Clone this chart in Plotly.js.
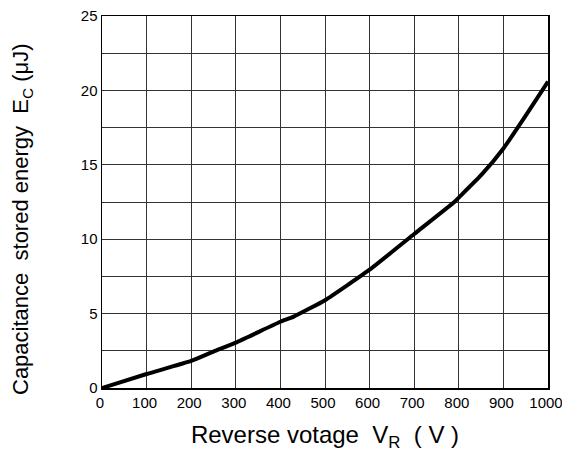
<!DOCTYPE html>
<html>
<head>
<meta charset="utf-8">
<script src="https://cdn.plot.ly/plotly-3.0.1.min.js"></script>
<style>html,body{margin:0;padding:0;background:#fff;}#chart{width:562px;height:456px;}</style>
</head>
<body>
<div id="chart"></div>
<script>
// Reverse voltage V_R (V)
const voltage = [0, 100, 200, 250, 300, 400, 430, 500, 600, 700, 790, 800, 850, 900, 950, 1000];
// Capacitance stored energy E_C (µJ)
const energy = [0, 0.94, 1.82, 2.45, 3.05, 4.45, 4.8, 5.9, 7.95, 10.35, 12.5, 12.8, 14.3, 16.1, 18.3, 20.6];
const xTicks = [0, 100, 200, 300, 400, 500, 600, 700, 800, 900, 1000];
const yTicks = [0, 5, 10, 15, 20, 25];
const xTitle = 'Reverse votage&nbsp;&nbsp;V<sub>R</sub>&nbsp;&nbsp;( V )';
const yTitle = 'Capacitance&nbsp;&nbsp;stored energy&nbsp;&nbsp;E<sub>C</sub> (μJ)';

const fam = 'Liberation Sans, Arial, sans-serif';
const W = 562, H = 456, L = 102, R = 14, T = 16, B = 68;
Plotly.newPlot('chart', [{
  x: voltage, y: energy, mode: 'lines', type: 'scatter',
  line: {color: '#000', width: 4, shape: 'spline', smoothing: 0.4},
  hoverinfo: 'skip'
}], {
  width: W, height: H,
  margin: {l: L, r: R, t: T, b: B},
  paper_bgcolor: '#fff', plot_bgcolor: '#fff',
  showlegend: false,
  font: {family: fam, color: '#000'},
  xaxis: {
    range: [0, 1000], tickvals: xTicks, ticktext: xTicks.map(String),
    showgrid: true, gridcolor: '#333', gridwidth: 1,
    showline: true, linecolor: '#000', linewidth: 1.5, mirror: true,
    zeroline: false, ticks: '', ticklen: 0,
    ticklabeloverflow: 'allow', ticklabelshift: -2,
    tickfont: {family: fam, size: 15, color: '#000'},
    title: {text: xTitle, font: {family: fam, size: 24, color: '#000'}, standoff: 16}
  },
  yaxis: {
    range: [0, 25], tickvals: yTicks, ticktext: yTicks.map(String),
    showgrid: true, gridcolor: '#333', gridwidth: 1,
    minor: {dtick: 2.5, showgrid: true, gridcolor: '#333', gridwidth: 1, ticks: ''},
    showline: true, linecolor: '#000', linewidth: 1.5, mirror: true,
    zeroline: false, ticks: '', ticklen: 0,
    tickfont: {family: fam, size: 15, color: '#000'}
  },
  annotations: [{
    text: yTitle, textangle: -90, showarrow: false,
    xref: 'paper', yref: 'paper',
    x: (22 - L) / (W - L - R), y: (H - B - 219) / (H - T - B),
    xanchor: 'center', yanchor: 'middle',
    font: {family: fam, size: 22, color: '#000'}
  }]
}, {staticPlot: true, displayModeBar: false});
</script>
</body>
</html>
